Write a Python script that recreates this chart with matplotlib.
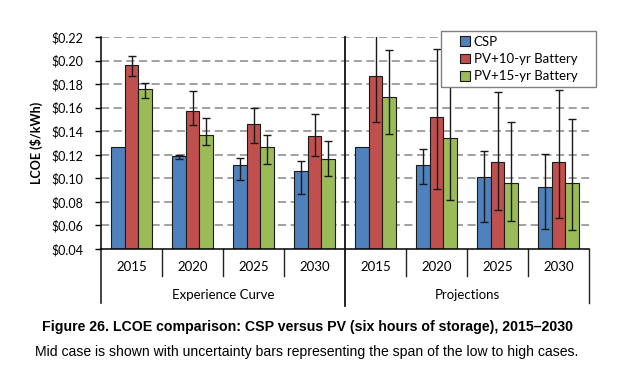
import matplotlib.pyplot as plt
import matplotlib.transforms as mtransforms
from matplotlib.patches import Rectangle
import numpy as np

nan = np.nan

YEARS = ["2015", "2020", "2025", "2030", "2015", "2020", "2025", "2030"]
GROUPS = ["Experience Curve", "Projections"]
SERIES = ["CSP", "PV+10-yr Battery", "PV+15-yr Battery"]
COLORS = ["#4F81BD", "#C0504D", "#9BBB59"]

csp_mid = [0.127, 0.119, 0.111, 0.106, 0.127, 0.111, 0.101, 0.093]
csp_low = [nan, 0.116, 0.099, 0.087, nan, 0.095, 0.063, 0.057]
csp_high = [nan, 0.120, 0.117, 0.115, nan, 0.125, 0.123, 0.121]

pv10_mid = [0.196, 0.157, 0.146, 0.136, 0.187, 0.152, 0.114, 0.114]
pv10_low = [0.187, 0.145, 0.130, 0.119, 0.148, 0.091, 0.073, 0.066]
pv10_high = [0.204, 0.174, 0.160, 0.155, 0.225, 0.210, 0.173, 0.175]

pv15_mid = [0.176, 0.137, 0.127, 0.116, 0.169, 0.134, 0.096, 0.096]
pv15_low = [0.168, 0.128, 0.112, 0.102, 0.138, 0.082, 0.064, 0.056]
pv15_high = [0.181, 0.151, 0.137, 0.132, 0.209, 0.190, 0.148, 0.150]

TICKS = [0.04, 0.06, 0.08, 0.10, 0.12, 0.14, 0.16, 0.18, 0.20, 0.22]

plt.rcParams["font.family"] = ["Lato", "DejaVu Sans"]

fig = plt.figure(figsize=(6.44, 3.76), dpi=100)
ax = fig.add_axes([101 / 644, 1 - 249 / 376, 488 / 644, 212 / 376])

x = np.arange(len(YEARS))
width = 0.22
series = [(csp_mid, csp_low, csp_high), (pv10_mid, pv10_low, pv10_high), (pv15_mid, pv15_low, pv15_high)]
for i, (mid, low, high) in enumerate(series):
    mid = np.array(mid)
    low = np.array(low)
    high = np.array(high)
    pos = x + (i - 1) * width
    ax.bar(pos, mid - 0.04, width, bottom=0.04, color=COLORS[i], edgecolor="#1a1a1a",
           linewidth=0.8, label=SERIES[i], zorder=2)
    ok = ~np.isnan(low)
    ax.errorbar(pos[ok], mid[ok], yerr=[mid[ok] - low[ok], high[ok] - mid[ok]],
                fmt="none", ecolor="#1a1a1a", elinewidth=1.0, capsize=3, capthick=1.0, zorder=3)

ax.set_xlim(-0.5, 7.5)
ax.set_ylim(0.04, 0.22)
ax.set_yticks(TICKS)
ax.set_yticklabels([f"${t:.2f}" for t in TICKS], fontsize=9)
ax.set_xticks([])
ax.set_ylabel("LCOE ($/kWh)", fontsize=9, fontweight="bold", labelpad=6)
ax.tick_params(axis="y", direction="out", length=4, width=1, pad=9)

for t in TICKS[1:]:
    ax.axhline(t, color="#9a9a9a", linewidth=1.3, linestyle=(0, (4.5, 2.5)), zorder=1)

for side in ["top", "right"]:
    ax.spines[side].set_visible(False)
ax.spines["left"].set_linewidth(1.1)
ax.spines["bottom"].set_linewidth(1.1)

trans = mtransforms.blended_transform_factory(ax.transData, ax.transAxes)
for sep in [0.5, 1.5, 2.5, 4.5, 5.5, 6.5]:
    ax.plot([sep, sep], [0, -0.125], transform=trans, color="#222222", lw=1.0, clip_on=False)
ax.plot([-0.5, -0.5], [0, -0.255], transform=trans, color="#111111", lw=1.1, clip_on=False)
ax.plot([3.5, 3.5], [1, -0.27], transform=trans, color="#111111", lw=1.3, clip_on=False, zorder=4)
ax.plot([7.5, 7.5], [0, -0.255], transform=trans, color="#222222", lw=1.0, clip_on=False)

for xi, yr in zip(x, YEARS):
    ax.text(xi, -0.085, yr, transform=trans, ha="center", va="center", fontsize=9.5)
ax.text(1.5, -0.215, GROUPS[0], transform=trans, ha="center", va="center", fontsize=9.5)
ax.text(5.5, -0.215, GROUPS[1], transform=trans, ha="center", va="center", fontsize=9.5)

ax.add_patch(Rectangle((441 / 644, 1 - 87 / 376), 155 / 644, 56 / 376, transform=fig.transFigure,
                       facecolor="white", edgecolor="#808080", linewidth=1.0, zorder=5, clip_on=False))
leg = ax.legend(loc="center", bbox_to_anchor=(518.5 / 644, 1 - 59 / 376), bbox_transform=fig.transFigure,
                frameon=False, fontsize=9.5, handlelength=0.75, handleheight=0.75, handletextpad=0.3,
                labelspacing=0.4, borderpad=0)
leg.set_zorder(6)

fig.text(307 / 644, 1 - 327 / 376, "Figure 26. LCOE comparison: CSP versus PV (six hours of storage), 2015\u20132030",
         ha="center", va="center", fontsize=10.2, fontweight="bold",
         family=["Liberation Sans", "DejaVu Sans"])
fig.text(307 / 644, 1 - 352 / 376, "Mid case is shown with uncertainty bars representing the span of the low to high cases.",
         ha="center", va="center", fontsize=10.1, family=["Liberation Sans", "DejaVu Sans"])

fig.savefig("out.png", dpi=100, facecolor="white")
